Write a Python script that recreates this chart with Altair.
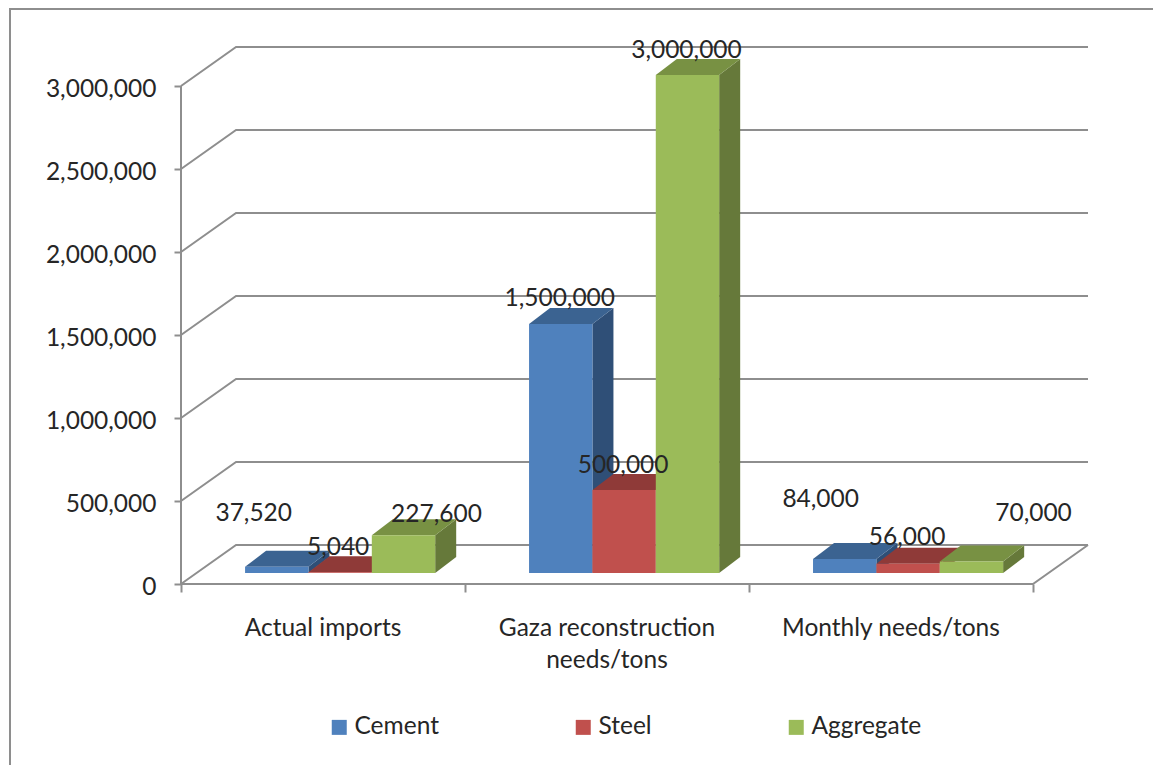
import altair as alt
import pandas as pd

# ---- values ----
CATEGORIES = ["Actual imports", "Gaza reconstruction\nneeds/tons", "Monthly needs/tons"]
SERIES = ["Cement", "Steel", "Aggregate"]
CEMENT = [37520, 1500000, 84000]
STEEL = [5040, 500000, 56000]
AGGREGATE = [227600, 3000000, 70000]
VALUES = [CEMENT, STEEL, AGGREGATE]
TICKS = [0, 500000, 1000000, 1500000, 2000000, 2500000, 3000000]

# ---- colours ----
FRONT = ["#4F81BD", "#C0504D", "#9BBB59"]
TOP = ["#3B6391", "#8F3A38", "#789143"]
SIDE = ["#2F4F77", "#7A302E", "#66793A"]
LINE = "#8E8E8E"
TEXT = "#262626"
FONT = "Lato"
FS = 24.5

# ---- layout (pixels) ----
PAD_L, PAD_T = 173, 39
W, H = 907, 537
PX_X = 283.67            # one category
PX_V = 83 / 500000       # px per ton
WALL_DX, WALL_DY = 55, 39
BAR_W, BAR_GAP = 63.3, 64
BASE_DY = 11
DEPTH_DX, DEPTH_DY = 21, 16

# label displacement from bar front-top centre, in px (right, up)
LABEL_SHIFT = [
    [(-23, 52.5), (-2, 24.5), (33, 20.5)],
    [(-1, 25.5), (-1, 24.5), (-1, 24.5)],
    [(-24, 59.5), (-1, 25.5), (62, 47.5)],
]

ux = lambda px: px / PX_X
uv = lambda px: px / PX_V
D, DV = ux(WALL_DX), uv(WALL_DY)
XMAX, VMAX = 3 + D, 3000000 + DV

x_scale = alt.Scale(domain=[0, XMAX], range=[0, W], nice=False, zero=False)
y_scale = alt.Scale(domain=[0, VMAX], range=[H, 0], nice=False, zero=False)
x_axis = alt.Axis(values=[0, 1, 2, 3], labels=False, domain=False, grid=False,
                  tickSize=8, tickColor=LINE, tickWidth=2, title=None)
y_axis = alt.Axis(values=TICKS, format=",d", domain=False, grid=False,
                  tickSize=7, tickColor=LINE, tickWidth=2, title=None,
                  labelFont=FONT, labelFontSize=FS, labelColor=TEXT,
                  labelPadding=18, labelOffset=3)
X = alt.X("x:Q", scale=x_scale, axis=x_axis)
Y = alt.Y("y:Q", scale=y_scale, axis=y_axis)

# ---- grid & floor ----
grid_rows = []
for t in TICKS:
    for px, py in [(0, t), (D, t + DV), (3 + D, t + DV)]:
        grid_rows.append({"x": px, "y": py, "id": f"t{t}"})
for px, py in [(0, 0), (3, 0), (3 + D, DV)]:
    grid_rows.append({"x": px, "y": py, "id": "floor"})
grid = alt.Chart(pd.DataFrame(grid_rows)).mark_line(color=LINE, strokeWidth=2).encode(
    x=X, y=Y, detail="id:N")
value_axis = alt.Chart(pd.DataFrame({"x": [0], "y": [0], "y2": [3000000]})).mark_rule(
    color=LINE, strokeWidth=2).encode(x=X, y=Y, y2="y2:Q")

# ---- bars ----
front, tops, sides, labels = [], [], [], []
for c in range(len(CATEGORIES)):
    for s, name in enumerate(SERIES):
        v = VALUES[s][c]
        x0 = c + ux(BAR_GAP) + s * ux(BAR_W)
        x1 = x0 + ux(BAR_W)
        b = uv(BASE_DY)
        dx, dv = ux(DEPTH_DX), uv(DEPTH_DY)
        bar = f"{c}-{s}"
        front.append({"x": x0, "x2": x1, "y": b, "y2": b + v, "series": name})
        for px, lo, hi in [(x1, b, b + v), (x1 + dx, b + dv, b + v + dv)]:
            sides.append({"x": px, "y": lo, "y2": hi, "id": bar, "fill": SIDE[s]})
        for px, lo, hi in [(x0, b + v, b + v), (x0 + dx, b + v, b + v + dv),
                           (x1, b + v, b + v + dv), (x1 + dx, b + v + dv, b + v + dv)]:
            tops.append({"x": px, "y": lo, "y2": hi, "id": bar, "fill": TOP[s]})
        sx, sy = LABEL_SHIFT[c][s]
        labels.append({"x": (x0 + x1) / 2 + ux(sx), "y": b + v + uv(sy), "text": f"{v:,}"})

side_layer = alt.Chart(pd.DataFrame(sides)).mark_area(opacity=1).encode(
    x=X, y=Y, y2="y2:Q", detail="id:N", fill=alt.Fill("fill:N", scale=None, legend=None))
top_layer = alt.Chart(pd.DataFrame(tops)).mark_area(opacity=1).encode(
    x=X, y=Y, y2="y2:Q", detail="id:N", fill=alt.Fill("fill:N", scale=None, legend=None))
front_layer = alt.Chart(pd.DataFrame(front)).mark_rect(opacity=1).encode(
    x=X, x2="x2:Q", y=Y, y2="y2:Q",
    color=alt.Color("series:N",
                    scale=alt.Scale(domain=SERIES, range=FRONT),
                    sort=SERIES,
                    legend=alt.Legend(
                        title=None, orient="none", legendX=146, legendY=668,
                        direction="horizontal", columns=3, columnPadding=132,
                        symbolType="square", symbolSize=225, symbolStrokeWidth=0,
                        symbolOpacity=1, labelOffset=3,
                        labelFont=FONT, labelFontSize=FS, labelColor=TEXT)),
)

# ---- texts ----
label_layer = alt.Chart(pd.DataFrame(labels)).mark_text(
    font=FONT, fontSize=FS, color=TEXT, baseline="middle", align="center"
).encode(x=X, y=Y, text="text:N")

cat_layer = alt.Chart(pd.DataFrame({
    "x": [i + 0.5 for i in range(len(CATEGORIES))],
    "y": [0] * len(CATEGORIES),
    "text": CATEGORIES,
})).mark_text(
    font=FONT, fontSize=FS, color=TEXT, baseline="top", align="center",
    dy=33, lineBreak="\n", lineHeight=32,
).encode(x=X, y=Y, text="text:N")

# ---- page frame: top and left lines ----
frame_top = alt.Chart(pd.DataFrame({"a": [0]})).mark_rule(color=LINE, strokeWidth=2).encode(
    x=alt.value(-PAD_L + 2), x2=alt.value(W + 270), y=alt.value(-PAD_T + 1))
frame_left = alt.Chart(pd.DataFrame({"a": [0]})).mark_rule(color=LINE, strokeWidth=2).encode(
    x=alt.value(-PAD_L + 2), y=alt.value(-PAD_T), y2=alt.value(H + 190))

chart = alt.layer(
    frame_top, frame_left, grid, value_axis, side_layer, top_layer, front_layer, label_layer, cat_layer
).resolve_scale(color="independent", fill="independent").properties(
    width=W, height=H,
    padding={"left": PAD_L, "top": PAD_T, "right": 65, "bottom": 181},
    autosize=alt.AutoSizeParams(type="none"),
    background="white",
).configure_view(stroke=None)

chart.save("out.html", embed_options={"renderer": "svg", "actions": False})
